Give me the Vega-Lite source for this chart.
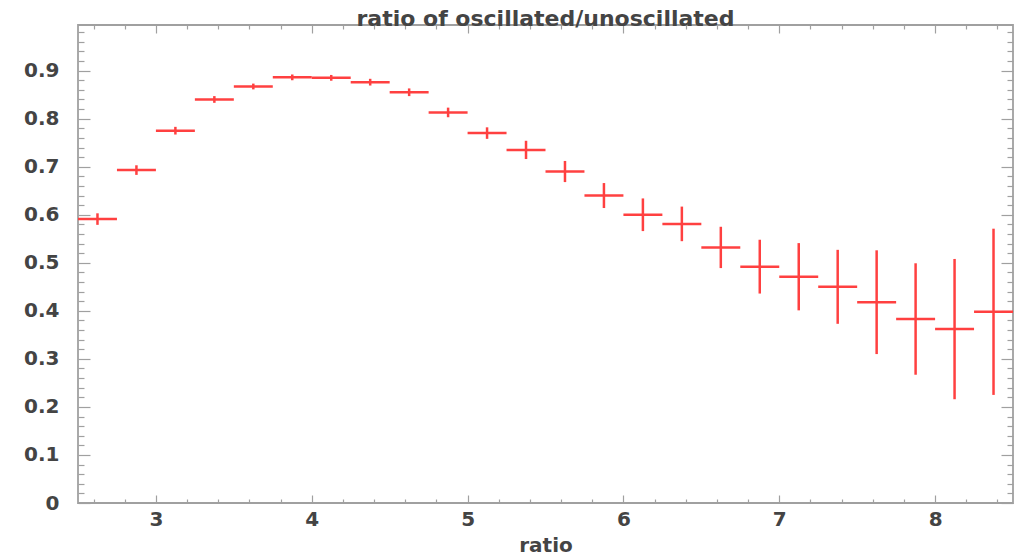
{
  "$schema": "https://vega.github.io/schema/vega-lite/v6.json",
  "width": 935,
  "height": 478,
  "autosize": {"type": "none"},
  "padding": {"left": 78, "top": 25, "right": 4, "bottom": 54},
  "background": "white",
  "title": {
    "text": "ratio of oscillated/unoscillated",
    "anchor": "middle",
    "font": "DejaVu Sans",
    "fontSize": 22,
    "fontWeight": "bold",
    "color": "#444444",
    "baseline": "alphabetic",
    "offset": -26
  },
  "config": {
    "view": {"stroke": "#a0a0a0", "strokeWidth": 1.8},
    "axis": {
      "domain": false,
      "grid": false,
      "labelFont": "DejaVu Sans",
      "labelFontSize": 20,
      "labelFontWeight": "bold",
      "labelColor": "#444444",
      "tickColor": "#a0a0a0",
      "tickWidth": 1.2,
      "labelOverlap": false,
      "labelFlush": false,
      "titleFont": "DejaVu Sans",
      "titleFontSize": 20,
      "titleFontWeight": "bold",
      "titleColor": "#444444"
    }
  },
  "data": {
    "values": [
      {"x0": 2.5, "x1": 2.75, "x": 2.625, "y": 0.591, "err": 0.012},
      {"x0": 2.75, "x1": 3.0, "x": 2.875, "y": 0.693, "err": 0.010},
      {"x0": 3.0, "x1": 3.25, "x": 3.125, "y": 0.775, "err": 0.008},
      {"x0": 3.25, "x1": 3.5, "x": 3.375, "y": 0.840, "err": 0.007},
      {"x0": 3.5, "x1": 3.75, "x": 3.625, "y": 0.867, "err": 0.006},
      {"x0": 3.75, "x1": 4.0, "x": 3.875, "y": 0.886, "err": 0.006},
      {"x0": 4.0, "x1": 4.25, "x": 4.125, "y": 0.885, "err": 0.006},
      {"x0": 4.25, "x1": 4.5, "x": 4.375, "y": 0.876, "err": 0.007},
      {"x0": 4.5, "x1": 4.75, "x": 4.625, "y": 0.855, "err": 0.008},
      {"x0": 4.75, "x1": 5.0, "x": 4.875, "y": 0.813, "err": 0.010},
      {"x0": 5.0, "x1": 5.25, "x": 5.125, "y": 0.770, "err": 0.012},
      {"x0": 5.25, "x1": 5.5, "x": 5.375, "y": 0.735, "err": 0.019},
      {"x0": 5.5, "x1": 5.75, "x": 5.625, "y": 0.690, "err": 0.022},
      {"x0": 5.75, "x1": 6.0, "x": 5.875, "y": 0.640, "err": 0.026},
      {"x0": 6.0, "x1": 6.25, "x": 6.125, "y": 0.600, "err": 0.034},
      {"x0": 6.25, "x1": 6.5, "x": 6.375, "y": 0.581, "err": 0.036},
      {"x0": 6.5, "x1": 6.75, "x": 6.625, "y": 0.532, "err": 0.043},
      {"x0": 6.75, "x1": 7.0, "x": 6.875, "y": 0.492, "err": 0.056},
      {"x0": 7.0, "x1": 7.25, "x": 7.125, "y": 0.471, "err": 0.070},
      {"x0": 7.25, "x1": 7.5, "x": 7.375, "y": 0.450, "err": 0.077},
      {"x0": 7.5, "x1": 7.75, "x": 7.625, "y": 0.418, "err": 0.108},
      {"x0": 7.75, "x1": 8.0, "x": 7.875, "y": 0.383, "err": 0.116},
      {"x0": 8.0, "x1": 8.25, "x": 8.125, "y": 0.362, "err": 0.146},
      {"x0": 8.25, "x1": 8.5, "x": 8.375, "y": 0.398, "err": 0.173}
    ]
  },
  "layer": [
    {
      "mark": {"type": "errorbar", "color": "#ff4040", "thickness": 2.5},
      "encoding": {
        "x": {
          "field": "x",
          "type": "quantitative",
          "scale": {"domain": [2.5, 8.5], "nice": false, "zero": false},
          "axis": {
            "orient": "bottom",
            "values": [2.6, 2.8, 3, 3.2, 3.4, 3.6, 3.8, 4, 4.2, 4.4, 4.6, 4.8, 5, 5.2, 5.4, 5.6, 5.8, 6, 6.2, 6.4, 6.6, 6.8, 7, 7.2, 7.4, 7.6, 7.8, 8, 8.2, 8.4],
            "tickSize": {"condition": {"test": "datum.value % 1 === 0", "value": -8}, "value": -4},
            "labelExpr": "datum.value % 1 === 0 ? format(datum.value, 'd') : ''",
            "labelPadding": 14,
            "title": "ratio",
            "titlePadding": 2
          }
        },
        "y": {
          "field": "y",
          "type": "quantitative",
          "scale": {"domain": [0, 0.995], "nice": false},
          "axis": {
            "orient": "left",
            "values": [0, 0.02, 0.04, 0.06, 0.08, 0.1, 0.12, 0.14, 0.16, 0.18, 0.2, 0.22, 0.24, 0.26, 0.28, 0.3, 0.32, 0.34, 0.36, 0.38, 0.4, 0.42, 0.44, 0.46, 0.48, 0.5, 0.52, 0.54, 0.56, 0.58, 0.6, 0.62, 0.64, 0.66, 0.68, 0.7, 0.72, 0.74, 0.76, 0.78, 0.8, 0.82, 0.84, 0.86, 0.88, 0.9, 0.92, 0.94, 0.96, 0.98],
            "tickSize": {"condition": {"test": "abs(datum.value * 10 - round(datum.value * 10)) < 0.000001", "value": -12}, "value": -6},
            "labelExpr": "abs(datum.value * 10 - round(datum.value * 10)) < 0.000001 ? (datum.value == 0 ? '0' : format(datum.value, '.1f')) : ''",
            "labelPadding": 31,
            "title": null
          }
        },
        "yError": {"field": "err"}
      }
    },
    {
      "mark": {"type": "rule", "color": "#ff4040", "strokeWidth": 2.5},
      "encoding": {
        "x": {
          "field": "x0",
          "type": "quantitative",
          "axis": {
            "orient": "top",
            "values": [2.6, 2.8, 3, 3.2, 3.4, 3.6, 3.8, 4, 4.2, 4.4, 4.6, 4.8, 5, 5.2, 5.4, 5.6, 5.8, 6, 6.2, 6.4, 6.6, 6.8, 7, 7.2, 7.4, 7.6, 7.8, 8, 8.2, 8.4],
            "tickSize": {"condition": {"test": "datum.value % 1 === 0", "value": -8}, "value": -4},
            "labels": false,
            "title": null
          }
        },
        "x2": {"field": "x1"},
        "y": {
          "field": "y",
          "type": "quantitative",
          "axis": {
            "orient": "right",
            "values": [0, 0.02, 0.04, 0.06, 0.08, 0.1, 0.12, 0.14, 0.16, 0.18, 0.2, 0.22, 0.24, 0.26, 0.28, 0.3, 0.32, 0.34, 0.36, 0.38, 0.4, 0.42, 0.44, 0.46, 0.48, 0.5, 0.52, 0.54, 0.56, 0.58, 0.6, 0.62, 0.64, 0.66, 0.68, 0.7, 0.72, 0.74, 0.76, 0.78, 0.8, 0.82, 0.84, 0.86, 0.88, 0.9, 0.92, 0.94, 0.96, 0.98],
            "tickSize": {"condition": {"test": "abs(datum.value * 10 - round(datum.value * 10)) < 0.000001", "value": -12}, "value": -6},
            "labels": false,
            "title": null
          }
        }
      }
    }
  ],
  "resolve": {"axis": {"x": "independent", "y": "independent"}}
}
